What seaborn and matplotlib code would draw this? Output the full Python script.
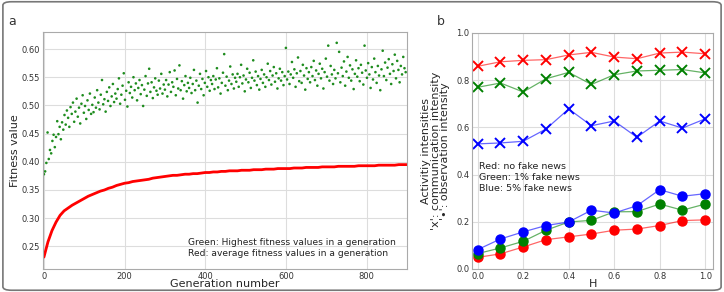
import numpy as np
import pandas as pd
import matplotlib
matplotlib.use("Agg")
import matplotlib.pyplot as plt
from matplotlib.patches import FancyBboxPatch
import seaborn as sns

# ---- panel a: fitness per generation ----
green_gen = list(range(0, 900, 3))
green_fit = [
    0.378, 0.383, 0.398, 0.452, 0.405, 0.421, 0.415, 0.437, 0.448, 0.426, 0.444, 0.472, 0.449, 0.462, 0.440, 0.470, 0.457, 0.483, 0.466, 0.491,
    0.478, 0.462, 0.497, 0.485, 0.505, 0.471, 0.489, 0.512, 0.480, 0.496, 0.468, 0.503, 0.518, 0.487, 0.499, 0.476, 0.509, 0.492, 0.521, 0.485,
    0.501, 0.488, 0.514, 0.496, 0.527, 0.505, 0.493, 0.519, 0.545, 0.502, 0.511, 0.489, 0.524, 0.508, 0.532, 0.499, 0.516, 0.538, 0.506, 0.521,
    0.512, 0.529, 0.548, 0.503, 0.519, 0.535, 0.557, 0.510, 0.526, 0.498, 0.541, 0.522, 0.533, 0.514, 0.550, 0.527, 0.539, 0.509, 0.531, 0.545,
    0.520, 0.536, 0.499, 0.528, 0.552, 0.517, 0.539, 0.565, 0.524, 0.541, 0.513, 0.532, 0.548, 0.526, 0.519, 0.544, 0.530, 0.556, 0.521, 0.537,
    0.528, 0.545, 0.516, 0.537, 0.559, 0.524, 0.541, 0.533, 0.562, 0.518, 0.547, 0.530, 0.571, 0.527, 0.543, 0.512, 0.536, 0.552, 0.525, 0.540,
    0.531, 0.549, 0.522, 0.538, 0.563, 0.527, 0.544, 0.505, 0.535, 0.556, 0.529, 0.547, 0.518, 0.540, 0.561, 0.533, 0.550, 0.526, 0.545, 0.538,
    0.552, 0.529, 0.546, 0.566, 0.532, 0.548, 0.521, 0.540, 0.558, 0.591, 0.535, 0.551, 0.527, 0.544, 0.569, 0.538, 0.555, 0.530, 0.549, 0.542,
    0.556, 0.533, 0.550, 0.572, 0.539, 0.553, 0.525, 0.546, 0.565, 0.541, 0.558, 0.531, 0.549, 0.580, 0.544, 0.560, 0.536, 0.552, 0.528, 0.547,
    0.563, 0.540, 0.555, 0.533, 0.550, 0.574, 0.545, 0.561, 0.537, 0.553, 0.568, 0.542, 0.557, 0.530, 0.548, 0.565, 0.544, 0.559, 0.536, 0.552,
    0.602, 0.546, 0.560, 0.538, 0.555, 0.577, 0.549, 0.564, 0.533, 0.557, 0.585, 0.543, 0.561, 0.540, 0.572, 0.553, 0.528, 0.566, 0.547, 0.559,
    0.541, 0.568, 0.552, 0.579, 0.545, 0.562, 0.535, 0.556, 0.574, 0.548, 0.565, 0.530, 0.559, 0.583, 0.551, 0.606, 0.544, 0.570, 0.555, 0.538,
    0.563, 0.548, 0.611, 0.557, 0.595, 0.541, 0.567, 0.552, 0.578, 0.535, 0.560, 0.586, 0.549, 0.571, 0.544, 0.564, 0.529, 0.556, 0.580, 0.551,
    0.566, 0.543, 0.572, 0.558, 0.537, 0.606, 0.562, 0.549, 0.575, 0.555, 0.531, 0.568, 0.546, 0.583, 0.559, 0.540, 0.570, 0.553, 0.527, 0.564,
    0.597, 0.552, 0.576, 0.545, 0.567, 0.582, 0.556, 0.538, 0.573, 0.561, 0.590, 0.548, 0.579, 0.563, 0.541, 0.570, 0.555, 0.586, 0.566, 0.559,
]

red_gen = list(range(0, 901, 10))
red_fit = [
    0.231, 0.258, 0.278, 0.293, 0.305, 0.313, 0.318, 0.323, 0.327, 0.331,
    0.335, 0.339, 0.342, 0.345, 0.348, 0.350, 0.353, 0.355, 0.358, 0.360,
    0.362, 0.363, 0.365, 0.366, 0.367, 0.368, 0.369, 0.371, 0.372, 0.373,
    0.374, 0.375, 0.376, 0.376, 0.377, 0.378, 0.378, 0.379, 0.379, 0.380,
    0.381, 0.381, 0.382, 0.382, 0.383, 0.383, 0.384, 0.384, 0.384, 0.385,
    0.385, 0.385, 0.386, 0.386, 0.386, 0.387, 0.387, 0.387, 0.388, 0.388,
    0.388, 0.388, 0.389, 0.389, 0.389, 0.390, 0.390, 0.390, 0.390, 0.391,
    0.391, 0.391, 0.391, 0.392, 0.392, 0.392, 0.392, 0.392, 0.393, 0.393,
    0.393, 0.393, 0.393, 0.394, 0.394, 0.394, 0.394, 0.394, 0.395, 0.395, 0.395,
]

# ---- panel b: activity intensities vs H ----
H = [0.0, 0.1, 0.2, 0.3, 0.4, 0.5, 0.6, 0.7, 0.8, 0.9, 1.0]
comm_red = [0.859, 0.878, 0.884, 0.887, 0.907, 0.918, 0.898, 0.891, 0.915, 0.919, 0.912]
comm_green = [0.770, 0.788, 0.750, 0.806, 0.833, 0.782, 0.823, 0.839, 0.842, 0.845, 0.831]
comm_blue = [0.530, 0.534, 0.541, 0.593, 0.678, 0.607, 0.627, 0.558, 0.627, 0.597, 0.636]
obs_red = [0.049, 0.064, 0.093, 0.124, 0.136, 0.148, 0.164, 0.169, 0.184, 0.205, 0.208]
obs_green = [0.065, 0.089, 0.117, 0.164, 0.199, 0.206, 0.242, 0.243, 0.275, 0.249, 0.275]
obs_blue = [0.082, 0.127, 0.157, 0.184, 0.199, 0.249, 0.237, 0.268, 0.336, 0.308, 0.319]

sns.set_style("whitegrid", {"grid.color": "#dddddd", "axes.edgecolor": "#aaaaaa"})
plt.rcParams['font.family'] = ['DejaVu Sans']

fig = plt.figure(figsize=(7.24, 2.92), dpi=100)
axa = fig.add_axes([0.059, 0.079, 0.503, 0.811])
axb = fig.add_axes([0.652, 0.079, 0.333, 0.808])

# panel a
sns.scatterplot(x=green_gen, y=green_fit, ax=axa, color='#1e8c1e', s=3.5,
                edgecolor='none', linewidth=0)
sns.lineplot(x=red_gen, y=red_fit, ax=axa, color='red', linewidth=2.0)
axa.set_xlim(-3, 900)
axa.set_ylim(0.21, 0.63)
axa.set_xticks([0, 200, 400, 600, 800])
axa.set_yticks([0.25, 0.30, 0.35, 0.40, 0.45, 0.50, 0.55, 0.60])
axa.set_yticklabels(['%.2f' % v for v in axa.get_yticks()])
axa.set_xlabel('Generation number', fontsize=8, labelpad=-1)
axa.set_ylabel('Fitness value', fontsize=8, labelpad=1)
axa.tick_params(labelsize=6, length=0, pad=2, colors='#333333')
axa.text(358, 0.229, 'Green: Highest fitness values in a generation\n'
         'Red: average fitness values in a generation',
         fontsize=6.6, color='#222222', va='bottom', ha='left', linespacing=1.3)

# panel b
for vals, col in [(comm_red, 'red'), (comm_green, 'green'), (comm_blue, 'blue')]:
    sns.lineplot(x=H, y=vals, ax=axb, color=col, linewidth=0.9, alpha=0.6)
    axb.plot(H, vals, linestyle='none', marker='x', markersize=6.5,
             markeredgewidth=1.4, color=col)
for vals, col in [(obs_red, 'red'), (obs_green, 'green'), (obs_blue, 'blue')]:
    sns.lineplot(x=H, y=vals, ax=axb, color=col, linewidth=0.9, alpha=0.6)
    axb.plot(H, vals, linestyle='none', marker='o', markersize=6.5, color=col)
axb.set_xlim(-0.025, 1.035)
axb.set_ylim(0.0, 1.0)
axb.set_xticks([0.0, 0.2, 0.4, 0.6, 0.8, 1.0])
axb.set_yticks([0.0, 0.2, 0.4, 0.6, 0.8, 1.0])
axb.set_xticklabels(['0.0', '0.2', '0.4', '0.6', '0.8', '1.0'])
axb.set_yticklabels(['0.0', '0.2', '0.4', '0.6', '0.8', '1.0'])
axb.set_xlabel('H', fontsize=8, labelpad=-1)
axb.set_ylabel("Activitiy intensities\n'x': communication intensity\n'\u2022': observation intensity",
               fontsize=8, labelpad=4, linespacing=0.95)
axb.tick_params(labelsize=6, length=0, pad=2, colors='#333333')
axb.text(0.005, 0.455, 'Red: no fake news\nGreen: 1% fake news\nBlue: 5% fake news',
         fontsize=6.8, color='#222222', va='top', ha='left', linespacing=1.3)

# panel letters and outer frame
fig.text(0.012, 0.915, 'a', fontsize=9, color='#333333')
fig.text(0.603, 0.915, 'b', fontsize=9, color='#333333')
frame = FancyBboxPatch((0.004, 0.006), 0.992, 0.988, boxstyle='round,pad=0,rounding_size=0.012',
                       transform=fig.transFigure, fill=False, edgecolor='#777777', linewidth=1.2)
fig.patches.append(frame)

fig.savefig('out.png', dpi=100)
